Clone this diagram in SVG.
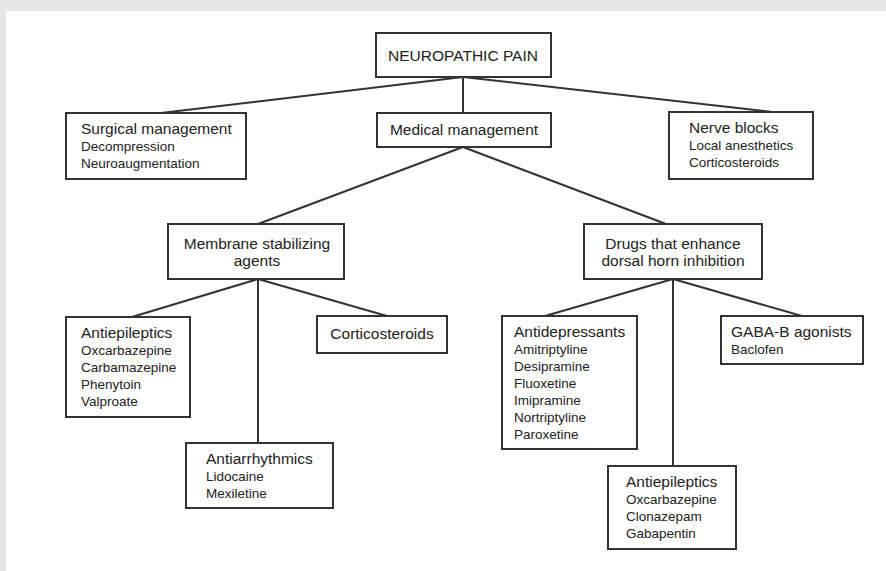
<svg xmlns="http://www.w3.org/2000/svg" width="886" height="571" viewBox="0 0 886 571">
<style>
.box{fill:#fff;stroke:#333;stroke-width:2}
.ln{stroke:#333;stroke-width:2;fill:none}
text{font-family:"Liberation Sans",Arial,sans-serif;fill:#222}
.h{font-size:15.5px}
.i{font-size:13.5px}
.c{text-anchor:middle}
</style>
<rect x="0" y="0" width="886" height="571" fill="#e6e6e6"/>
<rect x="6" y="11" width="880" height="560" fill="#fff"/>
<g id="connectors">
<line class="ln" x1="463" y1="77" x2="161" y2="113"/>
<line class="ln" x1="463" y1="77" x2="463" y2="113"/>
<line class="ln" x1="463" y1="77" x2="772" y2="112"/>
<line class="ln" x1="463" y1="147" x2="258" y2="224"/>
<line class="ln" x1="463" y1="147" x2="666" y2="224"/>
<line class="ln" x1="258" y1="279" x2="132" y2="317"/>
<line class="ln" x1="258" y1="279" x2="258" y2="443"/>
<line class="ln" x1="258" y1="279" x2="387" y2="316"/>
<line class="ln" x1="673" y1="279" x2="545" y2="316"/>
<line class="ln" x1="673" y1="279" x2="673" y2="466"/>
<line class="ln" x1="673" y1="279" x2="802" y2="316"/>
</g>
<g id="neuropathic-pain">
<rect class="box" x="376" y="33" width="175" height="44"/>
<text class="h c" x="463" y="61">NEUROPATHIC PAIN</text>
</g>
<g id="surgical">
<rect class="box" x="66" y="113" width="180" height="66"/>
<text class="h" x="81" y="134">Surgical management</text>
<text class="i" x="81" y="151">Decompression</text>
<text class="i" x="81" y="168">Neuroaugmentation</text>
</g>
<g id="medical">
<rect class="box" x="377" y="113" width="174" height="34"/>
<text class="h c" x="464" y="135">Medical management</text>
</g>
<g id="nerve-blocks">
<rect class="box" x="669" y="112" width="144" height="67"/>
<text class="h" x="689" y="133">Nerve blocks</text>
<text class="i" x="689" y="150">Local anesthetics</text>
<text class="i" x="689" y="167">Corticosteroids</text>
</g>
<g id="membrane">
<rect class="box" x="168" y="224" width="176" height="55"/>
<text class="h c" x="257" y="249">Membrane stabilizing</text>
<text class="h c" x="257" y="266">agents</text>
</g>
<g id="drugs">
<rect class="box" x="584" y="224" width="178" height="55"/>
<text class="h c" x="673" y="249">Drugs that enhance</text>
<text class="h c" x="673" y="266">dorsal horn inhibition</text>
</g>
<g id="antiepileptics-left">
<rect class="box" x="66" y="317" width="124" height="100"/>
<text class="h" x="81" y="338">Antiepileptics</text>
<text class="i" x="81" y="355">Oxcarbazepine</text>
<text class="i" x="81" y="372">Carbamazepine</text>
<text class="i" x="81" y="389">Phenytoin</text>
<text class="i" x="81" y="406">Valproate</text>
</g>
<g id="corticosteroids">
<rect class="box" x="317" y="316" width="130" height="37"/>
<text class="h c" x="382" y="339">Corticosteroids</text>
</g>
<g id="antiarrhythmics">
<rect class="box" x="186" y="443" width="147" height="65"/>
<text class="h" x="206" y="464">Antiarrhythmics</text>
<text class="i" x="206" y="481">Lidocaine</text>
<text class="i" x="206" y="498">Mexiletine</text>
</g>
<g id="antidepressants">
<rect class="box" x="502" y="316" width="135" height="133"/>
<text class="h" x="514" y="337">Antidepressants</text>
<text class="i" x="514" y="354">Amitriptyline</text>
<text class="i" x="514" y="371">Desipramine</text>
<text class="i" x="514" y="388">Fluoxetine</text>
<text class="i" x="514" y="405">Imipramine</text>
<text class="i" x="514" y="422">Nortriptyline</text>
<text class="i" x="514" y="439">Paroxetine</text>
</g>
<g id="gaba-b">
<rect class="box" x="721" y="316" width="142" height="48"/>
<text class="h" x="731" y="337">GABA-B agonists</text>
<text class="i" x="731" y="354">Baclofen</text>
</g>
<g id="antiepileptics-right">
<rect class="box" x="608" y="466" width="128" height="83"/>
<text class="h" x="626" y="487">Antiepileptics</text>
<text class="i" x="626" y="504">Oxcarbazepine</text>
<text class="i" x="626" y="521">Clonazepam</text>
<text class="i" x="626" y="538">Gabapentin</text>
</g>
</svg>
